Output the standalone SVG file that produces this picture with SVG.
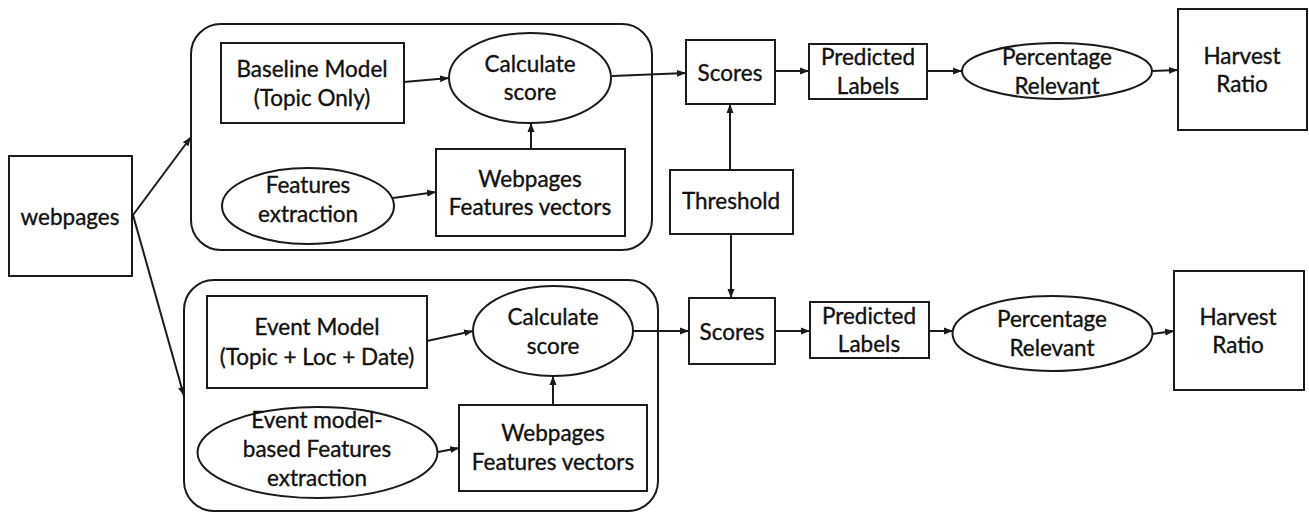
<svg xmlns="http://www.w3.org/2000/svg" width="1309" height="513" viewBox="0 0 1309 513">
  <style>
    .box { fill: #ffffff; stroke: #1a1a1a; stroke-width: 2; }
    .frame { fill: none; stroke: #1a1a1a; stroke-width: 2; }
    .edge { fill: none; stroke: #1a1a1a; stroke-width: 2; marker-end: url(#arrow); }
    .lbl { font-family: Lato, "Liberation Sans", sans-serif; font-size: 22.5px; fill: #111111; stroke: #111111; stroke-width: 0.35; text-anchor: middle; }
  </style>
  <defs>
    <marker id="arrow" markerUnits="userSpaceOnUse" markerWidth="10" markerHeight="8" refX="9" refY="4" orient="auto">
      <path d="M0,0.5 L9,4 L0,7.5 z" fill="#1a1a1a"/>
    </marker>
  </defs>
  <rect width="1309" height="513" fill="#ffffff"/>

  <!-- group frames -->
  <g id="baseline-pipeline">
    <rect class="frame" x="191" y="24" width="461" height="226" rx="30"/>
  </g>
  <g id="event-pipeline">
    <rect class="frame" x="184" y="280" width="474" height="231" rx="30"/>
  </g>

  <!-- connectors -->
  <g id="connectors">
    <path class="edge" d="M133,215 L191,137"/>
    <path class="edge" d="M133,215 L184,396"/>
    <path class="edge" d="M404,82 L449,78"/>
    <path class="edge" d="M393,198 L436,192"/>
    <path class="edge" d="M531,149 L531,123"/>
    <path class="edge" d="M612,76 L686,73"/>
    <path class="edge" d="M730,170 L730,104"/>
    <path class="edge" d="M731,234 L731,298"/>
    <path class="edge" d="M775,71 L809,71"/>
    <path class="edge" d="M927,71 L962,71"/>
    <path class="edge" d="M1152,71 L1178,70"/>
    <path class="edge" d="M427,341 L473,331"/>
    <path class="edge" d="M438,452 L459,448"/>
    <path class="edge" d="M553,405 L553,376"/>
    <path class="edge" d="M634,331 L689,331"/>
    <path class="edge" d="M775,331 L810,331"/>
    <path class="edge" d="M929,331 L953,331"/>
    <path class="edge" d="M1152,334 L1174,331"/>
  </g>

  <!-- input -->
  <g id="webpages">
    <rect class="box" x="9" y="156" width="123" height="120"/>
    <text class="lbl" x="70" y="225">webpages</text>
  </g>

  <!-- baseline pipeline nodes -->
  <g id="baseline-model">
    <rect class="box" x="221" y="43" width="183" height="80"/>
    <text class="lbl" x="312" y="77">Baseline Model</text>
    <text class="lbl" x="312" y="106">(Topic Only)</text>
  </g>
  <g id="calc-score-top">
    <ellipse class="box" cx="530" cy="78" rx="81" ry="45"/>
    <text class="lbl" x="530" y="72">Calculate</text>
    <text class="lbl" x="530" y="100">score</text>
  </g>
  <g id="features-extraction">
    <ellipse class="box" cx="308" cy="206" rx="86" ry="38"/>
    <text class="lbl" x="308" y="193">Features</text>
    <text class="lbl" x="308" y="222">extraction</text>
  </g>
  <g id="feature-vectors-top">
    <rect class="box" x="436" y="149" width="189" height="87"/>
    <text class="lbl" x="530" y="187">Webpages</text>
    <text class="lbl" x="530" y="215">Features vectors</text>
  </g>

  <!-- shared threshold -->
  <g id="threshold">
    <rect class="box" x="670" y="170" width="123" height="64"/>
    <text class="lbl" x="731" y="209">Threshold</text>
  </g>

  <!-- baseline results -->
  <g id="scores-top">
    <rect class="box" x="686" y="40" width="89" height="64"/>
    <text class="lbl" x="730" y="81">Scores</text>
  </g>
  <g id="predicted-labels-top">
    <rect class="box" x="809" y="44" width="118" height="55"/>
    <text class="lbl" x="868" y="65">Predicted</text>
    <text class="lbl" x="868" y="94">Labels</text>
  </g>
  <g id="percentage-relevant-top">
    <ellipse class="box" cx="1057" cy="71" rx="95" ry="28"/>
    <text class="lbl" x="1057" y="65">Percentage</text>
    <text class="lbl" x="1057" y="94">Relevant</text>
  </g>
  <g id="harvest-ratio-top">
    <rect class="box" x="1178" y="9" width="129" height="121"/>
    <text class="lbl" x="1242" y="64">Harvest</text>
    <text class="lbl" x="1242" y="92">Ratio</text>
  </g>

  <!-- event pipeline nodes -->
  <g id="event-model">
    <rect class="box" x="207" y="296" width="220" height="92"/>
    <text class="lbl" x="317" y="335">Event Model</text>
    <text class="lbl" x="317" y="365">(Topic + Loc + Date)</text>
  </g>
  <g id="calc-score-bottom">
    <ellipse class="box" cx="553" cy="331" rx="80" ry="45"/>
    <text class="lbl" x="553" y="325">Calculate</text>
    <text class="lbl" x="553" y="354">score</text>
  </g>
  <g id="event-features-extraction">
    <ellipse class="box" cx="317.5" cy="452.5" rx="120" ry="45.5"/>
    <text class="lbl" x="317" y="428">Event model-</text>
    <text class="lbl" x="317" y="457">based Features</text>
    <text class="lbl" x="317" y="486">extraction</text>
  </g>
  <g id="feature-vectors-bottom">
    <rect class="box" x="459" y="405" width="188" height="86"/>
    <text class="lbl" x="553" y="441">Webpages</text>
    <text class="lbl" x="553" y="470">Features vectors</text>
  </g>

  <!-- event results -->
  <g id="scores-bottom">
    <rect class="box" x="689" y="298" width="86" height="66"/>
    <text class="lbl" x="732" y="340">Scores</text>
  </g>
  <g id="predicted-labels-bottom">
    <rect class="box" x="810" y="302" width="119" height="56"/>
    <text class="lbl" x="869" y="324">Predicted</text>
    <text class="lbl" x="869" y="352">Labels</text>
  </g>
  <g id="percentage-relevant-bottom">
    <ellipse class="box" cx="1052.5" cy="333.5" rx="100" ry="37.5"/>
    <text class="lbl" x="1052" y="327">Percentage</text>
    <text class="lbl" x="1052" y="356">Relevant</text>
  </g>
  <g id="harvest-ratio-bottom">
    <rect class="box" x="1174" y="271" width="130" height="119"/>
    <text class="lbl" x="1238" y="325">Harvest</text>
    <text class="lbl" x="1238" y="353">Ratio</text>
  </g>
</svg>
